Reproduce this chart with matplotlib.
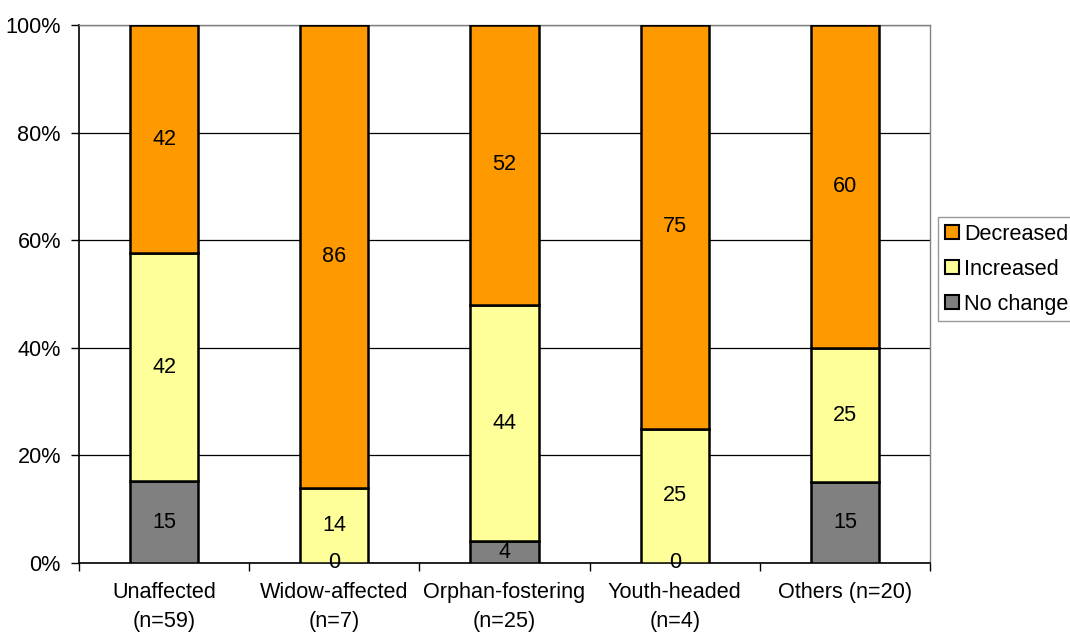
import matplotlib
matplotlib.use("Agg")
import matplotlib.pyplot as plt
import numpy as np
from matplotlib.patches import Patch

plt.rcParams['font.family'] = ['Liberation Sans', 'DejaVu Sans']

categories = ["Unaffected\n(n=59)", "Widow-affected\n(n=7)", "Orphan-fostering\n(n=25)",
              "Youth-headed\n(n=4)", "Others (n=20)"]
no_change = [15, 0, 4, 0, 15]
increased = [42, 14, 44, 25, 25]
decreased = [42, 86, 52, 75, 60]
series_names = ["No change", "Increased", "Decreased"]
colors = ["#808080", "#FFFF99", "#FF9900"]
yticks = [0, 20, 40, 60, 80, 100]
ytick_labels = ["0%", "20%", "40%", "60%", "80%", "100%"]

FS = 15.6

fig = plt.figure(figsize=(10.70, 6.32), dpi=100)
ax = fig.add_axes([79/1070, 1-563/632, (930-79)/1070, (563-25)/632])

data = np.array([no_change, increased, decreased], dtype=float)
totals = data.sum(axis=0)
pct = data / totals * 100
x = np.arange(len(categories))
bottom = np.zeros(len(categories))
for i in range(3):
    ax.bar(x, pct[i], bottom=bottom, width=0.4, color=colors[i], edgecolor="black",
           linewidth=1.8, zorder=3)
    for j in range(len(categories)):
        ax.text(x[j], bottom[j] + pct[i][j] / 2, f"{int(data[i][j])}", ha="center", va="center",
                fontsize=FS, zorder=4)
    bottom += pct[i]

ax.set_xlim(-0.5, len(categories) - 0.5)
ax.set_ylim(0, 100)
ax.set_yticks(yticks)
ax.set_yticklabels(ytick_labels, fontsize=FS)
ax.yaxis.grid(True, color="black", linewidth=0.9, zorder=0)
ax.set_axisbelow(True)

ax.set_xticks(x)
ax.set_xticklabels(categories, fontsize=FS, linespacing=1.5)
ax.tick_params(axis="x", length=0, pad=14)
ax.set_xticks(np.arange(len(categories) + 1) - 0.5, minor=True)
ax.tick_params(axis="x", which="minor", length=6, direction="out", width=1)
ax.tick_params(axis="y", length=6, direction="out", width=1, pad=7)

for s in ["top", "right"]:
    ax.spines[s].set_color("#808080")
    ax.spines[s].set_linewidth(1)
for s in ["left", "bottom"]:
    ax.spines[s].set_color("black")
    ax.spines[s].set_linewidth(1.2)

handles = [Patch(facecolor=colors[i], edgecolor="black", linewidth=1.5, label=series_names[i])
           for i in [2, 1, 0]]
leg = fig.legend(handles=handles, loc="upper left", bbox_to_anchor=(938/1070, 1-217/632),
                 fontsize=FS, frameon=True, fancybox=False, edgecolor="#808080",
                 handlelength=0.65, handleheight=0.65, handletextpad=0.25,
                 borderpad=0.3, labelspacing=0.65, borderaxespad=0)
leg.get_frame().set_linewidth(1)

fig.savefig("out.png", dpi=100)
